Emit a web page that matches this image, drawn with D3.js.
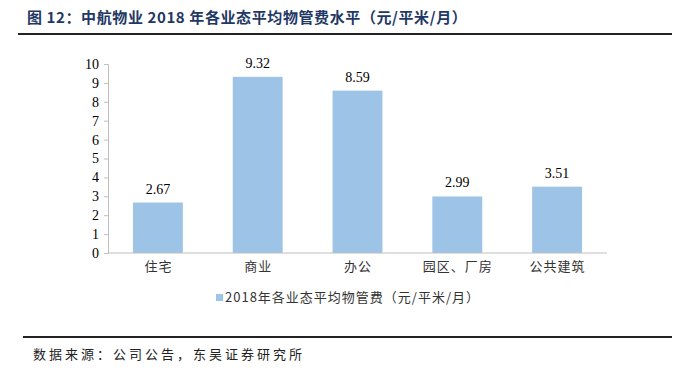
<!DOCTYPE html>
<html>
<head>
<meta charset="utf-8">
<script src="https://cdn.jsdelivr.net/npm/d3@7"></script>
<style>
  body { margin: 0; background: #fff; }
  svg { display: block; }
</style>
</head>
<body>
<svg id="chart" width="688" height="375"></svg>
<script>
var categories = ['住宅', '商业', '办公', '园区、厂房', '公共建筑'];
var values = [2.67, 9.32, 8.59, 2.99, 3.51];
var yTicks = [0, 1, 2, 3, 4, 5, 6, 7, 8, 9, 10];
var seriesName = '2018年各业态平均物管费（元/平米/月）';

var svg = d3.select('#chart');
var cjk = '"Noto Sans CJK SC", sans-serif';
var serif = '"Liberation Serif", "Times New Roman", serif';

// title + rules
svg.append('text')
    .attr('x', 27).attr('y', 23)
    .attr('font-family', cjk).attr('font-weight', 'bold')
    .attr('font-size', 15).attr('letter-spacing', 0.6).attr('fill', '#1f3864')
    .text('图 12：中航物业 2018 年各业态平均物管费水平（元/平米/月）');
svg.append('line').attr('x1', 18).attr('x2', 672).attr('y1', 34).attr('y2', 34)
    .attr('stroke', '#222').attr('stroke-width', 2);
svg.append('line').attr('x1', 23).attr('x2', 672).attr('y1', 337).attr('y2', 337)
    .attr('stroke', '#222').attr('stroke-width', 2);
svg.append('text')
    .attr('x', 33).attr('y', 359)
    .attr('font-family', cjk).attr('font-size', 13).attr('letter-spacing', 3).attr('fill', '#222')
    .text('数据来源：公司公告，东吴证券研究所');

var x = d3.scaleBand().domain(categories).range([108, 607]).paddingInner(0.5).paddingOuter(0.25);
var y = d3.scaleLinear().domain([0, 10]).range([253, 64]);

// y axis
var yAxis = d3.axisLeft(y).tickValues(yTicks).tickSize(4).tickPadding(5).tickFormat(d3.format('d'));
var gy = svg.append('g').attr('transform', 'translate(108,0)').call(yAxis);
gy.selectAll('path, line').attr('stroke', '#bfbfbf');
gy.selectAll('text').attr('font-family', serif).attr('font-size', 14).attr('fill', '#000');

// bars
svg.selectAll('rect.bar').data(values).enter().append('rect')
    .attr('class', 'bar')
    .attr('x', function(d, i) { return x(categories[i]); })
    .attr('width', x.bandwidth())
    .attr('y', function(d) { return y(d); })
    .attr('height', function(d) { return y(0) - y(d); })
    .attr('fill', '#9dc3e6');

svg.selectAll('text.val').data(values).enter().append('text')
    .attr('class', 'val')
    .attr('x', function(d, i) { return x(categories[i]) + x.bandwidth() / 2; })
    .attr('y', function(d) { return y(d) - 9; })
    .attr('text-anchor', 'middle')
    .attr('font-family', serif).attr('font-size', 14).attr('fill', '#000')
    .text(function(d) { return d.toFixed(2); });

// x axis
var gx = svg.append('g').attr('transform', 'translate(0,253)')
    .call(d3.axisBottom(x).tickSize(0).tickPadding(9));
gx.select('.domain').attr('stroke', '#bfbfbf').attr('d', 'M108,0H607');
gx.selectAll('text').attr('font-family', cjk).attr('font-size', 13)
    .attr('letter-spacing', 1).attr('dx', 0.5).attr('fill', '#333');

// legend
var lg = svg.append('g').attr('transform', 'translate(216,302)');
lg.append('rect').attr('x', 0).attr('y', -8).attr('width', 7).attr('height', 7).attr('fill', '#9dc3e6');
lg.append('text').attr('x', 9).attr('y', 0)
    .attr('font-family', cjk).attr('font-size', 13).attr('letter-spacing', 1).attr('fill', '#333')
    .text(seriesName);
</script>
</body>
</html>
